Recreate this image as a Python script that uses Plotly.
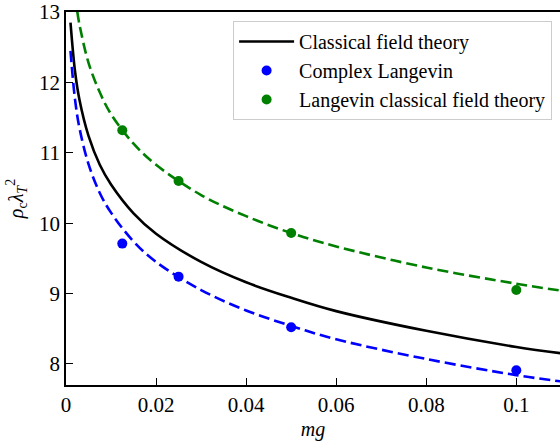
import plotly.graph_objects as go

# Theory curves
curve_x = [0.001, 0.002, 0.003, 0.005, 0.0075, 0.01, 0.015, 0.02, 0.03, 0.04, 0.05, 0.06, 0.08, 0.1, 0.11]
classical_y = [12.85, 12.16, 11.75, 11.24, 10.83, 10.55, 10.14, 9.85, 9.45, 9.16, 8.94, 8.75, 8.47, 8.24, 8.15]
cl_fit_y = [12.45, 11.76, 11.35, 10.84, 10.43, 10.15, 9.74, 9.45, 9.05, 8.76, 8.54, 8.35, 8.07, 7.84, 7.75]
green_x = [0.0025, 0.003, 0.005, 0.0075, 0.01, 0.015, 0.02, 0.03, 0.04, 0.05, 0.06, 0.08, 0.1, 0.11]
lcft_fit_y = [13.01, 12.82, 12.28, 11.86, 11.55, 11.13, 10.83, 10.40, 10.10, 9.86, 9.67, 9.37, 9.14, 9.04]

# Data points
mg = [0.0125, 0.025, 0.05, 0.1]
cl_y = [9.71, 9.24, 8.52, 7.91]
cl_err = [0.03, 0.03, 0.03, 0.03]
lcft_y = [11.32, 10.60, 9.86, 9.05]
lcft_err = [0.03, 0.03, 0.03, 0.03]

xticks = [0, 0.02, 0.04, 0.06, 0.08, 0.1]
xticklabels = ["0", "0.02", "0.04", "0.06", "0.08", "0.1"]
yticks = [8, 9, 10, 11, 12, 13]

BLUE = "#0000ff"
GREEN = "#008000"
FONT = "Liberation Serif"

fig = go.Figure()
fig.add_trace(go.Scatter(x=curve_x, y=classical_y, mode="lines", line=dict(color="black", width=2.6, shape="spline"),
                         name="Classical field theory"))
fig.add_trace(go.Scatter(x=curve_x, y=cl_fit_y, mode="lines", line=dict(color=BLUE, width=2.6, dash="11px,5px", shape="spline"),
                         showlegend=False))
fig.add_trace(go.Scatter(x=green_x, y=lcft_fit_y, mode="lines", line=dict(color=GREEN, width=2.6, dash="11px,5px", shape="spline"),
                         showlegend=False))
fig.add_trace(go.Scatter(x=mg, y=cl_y, mode="markers", marker=dict(color=BLUE, size=10),
                         error_y=dict(type="data", array=cl_err, color=BLUE, thickness=2, width=0),
                         name="Complex Langevin"))
fig.add_trace(go.Scatter(x=mg, y=lcft_y, mode="markers", marker=dict(color=GREEN, size=10),
                         error_y=dict(type="data", array=lcft_err, color=GREEN, thickness=2, width=0),
                         name="Langevin classical field theory"))

fig.update_layout(
    width=560, height=445,
    margin=dict(l=66, r=0, t=8, b=60),
    plot_bgcolor="white", paper_bgcolor="white",
    font=dict(family=FONT, size=20, color="black"),
    showlegend=True,
    legend=dict(x=0.984, y=0.976, xanchor="right", yanchor="top",
                bgcolor="rgba(255,255,255,0.85)", bordercolor="#cccccc", borderwidth=1,
                font=dict(family=FONT, size=20), tracegroupgap=0, itemwidth=55),
    xaxis=dict(range=[0, 0.1097], tickvals=xticks, ticktext=xticklabels,
               ticks="inside", ticklen=7, tickwidth=1.3, tickcolor="black",
               showline=True, linecolor="black", linewidth=1.6, mirror=True,
               showgrid=False, zeroline=False, tickfont=dict(family=FONT, size=21),
               title=dict(text="<i>mg</i>", font=dict(family=FONT, size=20), standoff=6)),
    yaxis=dict(range=[7.7, 13.002], tickvals=yticks, ticklabeloverflow="allow",
               ticks="inside", ticklen=7, tickwidth=1.3, tickcolor="black",
               showline=True, linecolor="black", linewidth=1.6,
               showgrid=False, zeroline=False, tickfont=dict(family=FONT, size=21),
               title=dict(text="<i>ρ</i><sub>c</sub><i>λ</i><sub><i>T</i></sub><sup>2</sup>", font=dict(family=FONT, size=20), standoff=10)),
)

fig.write_html("out.html")
